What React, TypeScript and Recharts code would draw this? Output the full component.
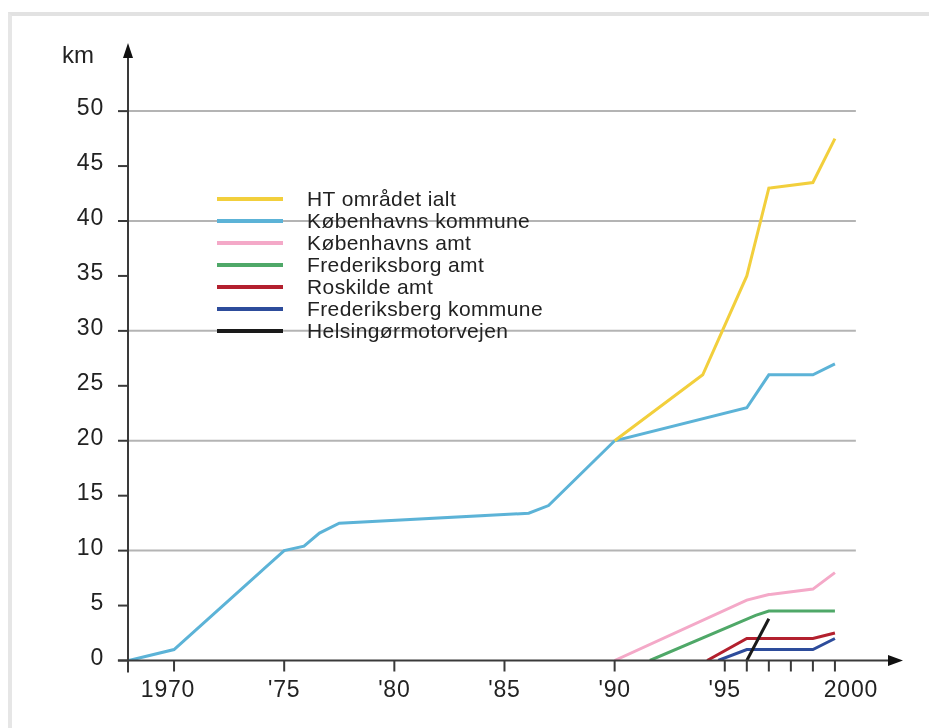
import React from 'react';
import { LineChart, Line, XAxis, YAxis, ReferenceLine, ReferenceDot } from 'recharts';

// ---- data (km of bus lanes per year) ----
const htOmraadet = [
  { year: 1990, km: 20 },
  { year: 1994, km: 26 },
  { year: 1996, km: 35 },
  { year: 1997, km: 43 },
  { year: 1999, km: 43.5 },
  { year: 2000, km: 47.5 },
];
const kbhKommune = [
  { year: 1967.95, km: 0 },
  { year: 1970, km: 1 },
  { year: 1975, km: 10 },
  { year: 1975.9, km: 10.4 },
  { year: 1976.6, km: 11.6 },
  { year: 1977.5, km: 12.5 },
  { year: 1986.1, km: 13.4 },
  { year: 1987, km: 14.1 },
  { year: 1990, km: 20 },
  { year: 1996, km: 23 },
  { year: 1997, km: 26 },
  { year: 1999, km: 26 },
  { year: 2000, km: 27 },
];
const kbhAmt = [
  { year: 1990, km: 0 },
  { year: 1996, km: 5.5 },
  { year: 1997, km: 6 },
  { year: 1999, km: 6.5 },
  { year: 2000, km: 8 },
];
const frbAmt = [
  { year: 1991.6, km: 0 },
  { year: 1996.4, km: 4.1 },
  { year: 1997, km: 4.5 },
  { year: 2000, km: 4.5 },
];
const roskildeAmt = [
  { year: 1994.2, km: 0 },
  { year: 1996, km: 2 },
  { year: 1999, km: 2 },
  { year: 2000, km: 2.5 },
];
const frbKommune = [
  { year: 1994.7, km: 0 },
  { year: 1996, km: 1 },
  { year: 1999, km: 1 },
  { year: 2000, km: 2 },
];
const helsingor = [
  { year: 1996, km: 0 },
  { year: 1997, km: 3.8 },
];

const xTicks = [1970, 1975, 1980, 1985, 1990, 1995, 1996, 1997, 1998, 1999, 2000];
const xTickLabels: Record<number, string> = {
  1970: '1970', 1975: "'75", 1980: "'80", 1985: "'85", 1990: "'90", 1995: "'95", 2000: '2000',
};
const yTicks = [0, 5, 10, 15, 20, 25, 30, 35, 40, 45, 50];
const gridValues = [10, 20, 30, 40, 50];

const series = [
  { name: 'HT området ialt', color: '#f2cf3c', data: htOmraadet },
  { name: 'Københavns kommune', color: '#5cb3d7', data: kbhKommune },
  { name: 'Københavns amt', color: '#f4a9c8', data: kbhAmt },
  { name: 'Frederiksborg amt', color: '#4fa868', data: frbAmt },
  { name: 'Roskilde amt', color: '#b3202e', data: roskildeAmt },
  { name: 'Frederiksberg kommune', color: '#2d4c9b', data: frbKommune },
  { name: 'Helsingørmotorvejen', color: '#1a1a1a', data: helsingor },
];
const drawOrder = [2, 3, 4, 5, 1, 0, 6];

const X_MIN = 1967.91;
const X_MAX = 2003.09;
const Y_MAX = 56.2;
const FONT = '"Liberation Sans", Arial, Helvetica, sans-serif';
const AXIS = '#3a3a3a';

const XTick = (props: any) => {
  const { x, y, payload } = props;
  const label = xTickLabels[payload.value] ?? '';
  const dx = payload.value === 1970 ? -6 : payload.value === 2000 ? 16 : 0;
  return (
    <text x={x + dx} y={y} dy="0.71em" textAnchor="middle" fontSize={23} letterSpacing={0.8} fontFamily={FONT} fill="#222">
      {label}
    </text>
  );
};

const YTick = (props: any) => {
  const { x, y, payload } = props;
  return (
    <text x={x} y={y - 4} dy="0.355em" textAnchor="end" fontSize={23} letterSpacing={0.8} fontFamily={FONT} fill="#222">
      {payload.value}
    </text>
  );
};

const ArrowRight = (props: any) => {
  const { cx, cy } = props;
  return <path d={`M${cx},${cy} L${cx - 15},${cy - 5.5} L${cx - 15},${cy + 5.5} Z`} fill="#111" />;
};
const ArrowUp = (props: any) => {
  const { cx, cy } = props;
  return <path d={`M${cx},${cy} L${cx - 5},${cy + 15} L${cx + 5},${cy + 15} Z`} fill="#111" />;
};

export default function App() {
  return (
    <div style={{ position: 'relative', width: 913, height: 712, background: '#fff' }}>
      <div
        style={{
          position: 'fixed', left: 8, top: 12, width: 921, height: 716, boxSizing: 'border-box',
          borderTop: '4px solid #e2e2e2', borderLeft: '4px solid #e6e6e6', pointerEvents: 'none',
        }}
      />
      <div style={{ position: 'absolute', left: 54, top: 33, fontFamily: FONT, fontSize: 24, color: '#222' }}>km</div>
      <LineChart
        width={913}
        height={712}
        margin={{ top: 35, right: 18, bottom: 19.5, left: 0 }}
        style={{ position: 'absolute', left: 0, top: 0 }}
      >
        <XAxis
          type="number"
          dataKey="year"
          domain={[X_MIN, X_MAX]}
          ticks={xTicks}
          interval={0}
          axisLine={false}
          tickSize={11}
          tickMargin={9}
          tickLine={{ stroke: AXIS, strokeWidth: 2 }}
          tick={<XTick />}
          height={40}
          allowDataOverflow
        />
        <YAxis
          type="number"
          dataKey="km"
          domain={[0, Y_MAX]}
          ticks={yTicks}
          interval={0}
          axisLine={false}
          tickSize={10}
          tickMargin={14}
          tickLine={{ stroke: AXIS, strokeWidth: 2 }}
          tick={<YTick />}
          width={120}
          allowDataOverflow
        />
        {gridValues.map((v) => (
          <ReferenceLine
            key={`g${v}`}
            segment={[{ x: X_MIN, y: v }, { x: 2000.95, y: v }]}
            stroke="#b4b4b4"
            strokeWidth={2}
            ifOverflow="visible"
          />
        ))}
        {drawOrder.map((i) => (
          <Line
            key={series[i].name}
            data={series[i].data}
            dataKey="km"
            name={series[i].name}
            type="linear"
            stroke={series[i].color}
            strokeWidth={3}
            dot={false}
            activeDot={false}
            isAnimationActive={false}
          />
        ))}
        <ReferenceLine
          segment={[{ x: 1967.45, y: 0 }, { x: 2002.6, y: 0 }]}
          stroke={AXIS}
          strokeWidth={2}
          ifOverflow="visible"
        />
        <ReferenceLine
          segment={[{ x: X_MIN, y: -1.1 }, { x: X_MIN, y: 55 }]}
          stroke={AXIS}
          strokeWidth={2}
          ifOverflow="visible"
        />
        <ReferenceDot x={X_MAX} y={0} r={1} shape={<ArrowRight />} ifOverflow="visible" />
        <ReferenceDot x={X_MIN} y={Y_MAX} r={1} shape={<ArrowUp />} ifOverflow="visible" />
      </LineChart>
      <div style={{ position: 'absolute', left: 209, top: 180, fontFamily: FONT, fontSize: 21, color: '#222' }}>
        {series.map((s) => (
          <div key={s.name} style={{ display: 'flex', alignItems: 'center', height: 22 }}>
            <div style={{ width: 66, height: 4, background: s.color, marginRight: 24 }} />
            <span style={{ lineHeight: '22px', letterSpacing: 0.4 }}>{s.name}</span>
          </div>
        ))}
      </div>
    </div>
  );
}
